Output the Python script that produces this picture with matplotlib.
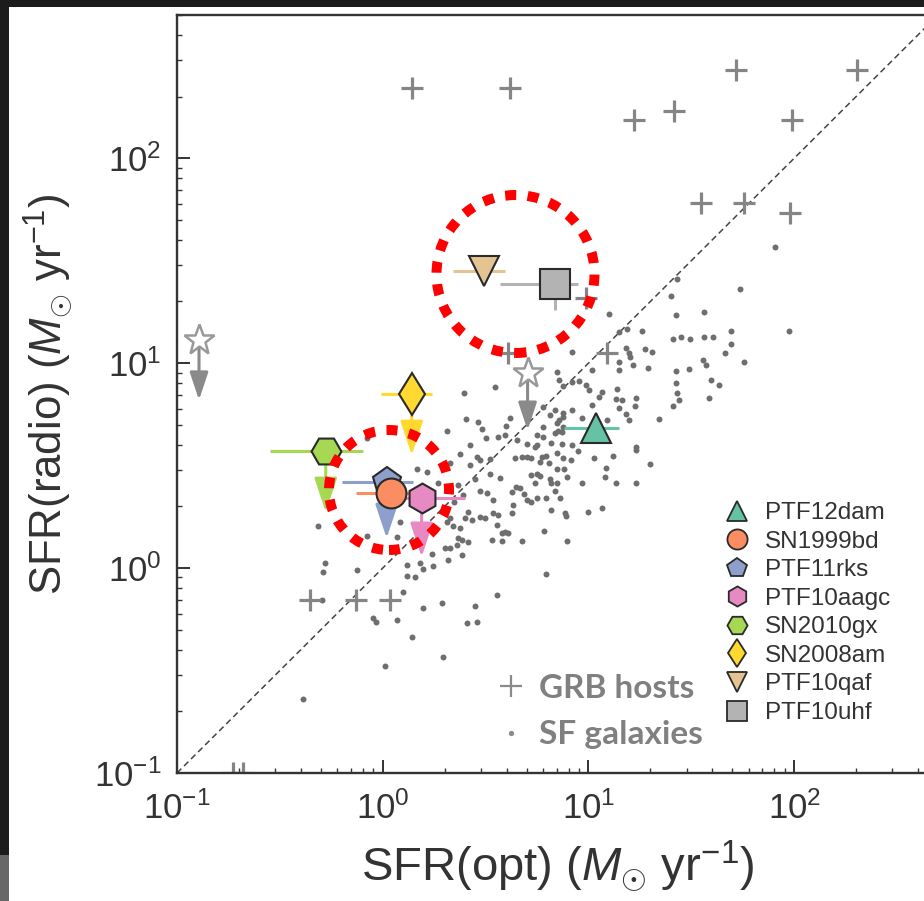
import numpy as np
import matplotlib
matplotlib.use('Agg')
import matplotlib.pyplot as plt
from matplotlib.lines import Line2D
from matplotlib.patches import Ellipse, Rectangle

plt.rcParams['font.family'] = ['Liberation Sans', 'DejaVu Sans']
plt.rcParams['mathtext.fontset'] = 'custom'
plt.rcParams['mathtext.rm'] = 'Liberation Sans'
plt.rcParams['mathtext.it'] = 'Liberation Sans:italic'
plt.rcParams['mathtext.bf'] = 'Liberation Sans:bold'

# ---------------- data (log10 of SFR in Msun/yr) -------------
sfg_log_opt = [0.393, 0.544, 0.403, 0.461, 0.621, 0.597, 0.481, 0.311, 0.500, 0.558, 0.592, 0.655, 0.422, 0.699,
               1.102, 1.427, 1.189, 1.262, 1.150, 1.413, 0.922, 1.184, 1.199, 1.277, 1.311, 1.204, 1.150, 1.150,
               1.218, 1.291, 0.845, 1.015, 1.427, 0.859, 0.922, 0.956, 0.874, 0.990, 1.005, 1.141, 1.427, 1.432,
               1.068, 1.053, 1.136, 1.165, 1.233, 1.019, 1.228, 1.146, 1.413, 0.835, 0.874, 0.922, 0.777, 1.184,
               0.811, 0.874, 0.859, 0.845, 1.199, 1.345, 0.971, 1.092, 0.777, 0.874, 0.850, 0.835, 0.869, 0.748,
               0.777, 0.820, 0.869, 0.748, 0.738, 0.922, 1.233, 1.908, 1.738, 1.432, 1.403, 1.563, 1.976, 1.694,
               1.451, 1.495, 1.563, 1.607, 1.694, 1.665, 1.757, 1.558, 1.573, 1.490, 1.442, 1.597, 1.636, 1.587,
               0.374, 0.456, 0.471, 0.519, 0.641, 0.675, 0.699, 0.422, 0.165, 0.214, 0.519, 0.568, 0.447, 0.364,
               0.267, 0.650, 0.665, 0.626, 0.471, 0.505, 0.388, 0.534, 0.689, 0.699, 0.345, 0.631, 0.413, 0.471,
               0.534, 0.558, 0.626, 0.398, 0.432, 0.495, 0.325, 0.311, 0.340, 0.374, 0.553, 0.592, 0.578, 0.607,
               0.083, 0.068, 0.364, 0.383, 0.413, 0.529, 0.578, 0.675, 0.359, 0.301, 0.325, 0.238, 0.383, 0.316,
               0.117, 0.180, 0.243, 0.194, 0.117, 0.155, 0.097, 0.553, 0.845, 0.947, 1.233, 0.772, 0.796, 0.762,
               0.806, 0.723, 0.874, 0.917, 1.029, 1.121, 1.301, 1.087, 0.845, 0.879, 0.723, 0.748, 0.762, 0.898,
               1.078, 0.811, 0.845, 0.820, 0.738, 0.971, 1.136, 1.233, 0.835, 0.748, 0.796, 0.864, 0.723, 0.816,
               0.888, 0.893, 1.000, 1.068, 0.786, 0.898, 0.796, 0.325, -0.316, -0.078, -0.282, -0.291, -0.126,
               -0.296, -0.049, -0.034, 0.068, 0.194, 0.286, 0.141, 0.291, 0.010, -0.388, 0.447, 0.408, 0.456,
               -0.078]
sfg_log_radio = [0.854, 0.883, 0.727, 0.712, 0.732, 0.693, 0.678, 0.668, 0.634, 0.639, 0.649, 0.624, 0.600, 0.605,
                 1.239, 1.234, 1.166, 1.156, 1.151, 1.117, 1.054, 1.073, 1.049, 1.068, 1.054, 1.029, 1.005, 0.966,
                 0.990, 0.976, 0.956, 0.966, 0.961, 0.917, 0.907, 0.912, 0.888, 0.893, 0.868, 0.873, 0.902, 0.854,
                 0.859, 0.834, 0.824, 0.820, 0.829, 0.795, 0.790, 0.780, 0.790, 0.771, 0.756, 0.771, 0.785, 0.751,
                 0.746, 0.737, 0.722, 0.707, 0.722, 0.727, 0.732, 0.722, 0.688, 0.688, 0.668, 0.659, 0.663, 0.649,
                 0.639, 0.610, 0.605, 0.600, 0.590, 0.600, 0.590, 1.566, 1.361, 1.410, 1.327, 1.249, 1.156, 1.156,
                 1.127, 1.117, 1.127, 1.127, 1.093, 1.049, 1.005, 1.015, 0.990, 0.971, 0.820, 0.917, 0.893, 0.829,
                 0.556, 0.541, 0.527, 0.532, 0.537, 0.541, 0.541, 0.502, 0.483, 0.468, 0.459, 0.439, 0.434, 0.405,
                 0.415, 0.395, 0.390, 0.371, 0.376, 0.366, 0.356, 0.332, 0.361, 0.332, 0.322, 0.307, 0.273, 0.249,
                 0.268, 0.259, 0.268, 0.244, 0.234, 0.244, 0.244, 0.224, 0.205, 0.195, 0.210, 0.176, 0.171, 0.171,
                 0.224, 0.151, 0.146, 0.137, 0.127, 0.137, 0.132, 0.132, 0.112, 0.098, 0.098, 0.068, 0.063, 0.039,
                 0.015, 0.024, 0.010, -0.005, -0.039, -0.044, -0.117, -0.132, 0.561, 0.571, 0.576, 0.541, 0.546, 0.517,
                 0.512, 0.537, 0.537, 0.527, 0.537, 0.546, 0.507, 0.488, 0.483, 0.483, 0.454, 0.459, 0.449, 0.444,
                 0.444, 0.434, 0.415, 0.415, 0.415, 0.415, 0.415, 0.415, 0.376, 0.341, 0.341, 0.341, 0.322, 0.283,
                 0.268, 0.254, 0.273, 0.293, 0.180, 0.132, -0.029, 0.512, 0.205, 0.156, 0.024, -0.020, -0.010,
                 -0.156, -0.244, -0.263, -0.254, -0.195, -0.171, -0.337, -0.434, -0.478, -0.639, -0.185, -0.268, -0.263,
                 0.634]

grb_log_opt = [0.141, 0.621, 1.718, 2.306, 1.223, 1.417, 1.990, 1.549, 1.757, 1.981, 0.990, 0.607, 1.092,
               -0.354, -0.131, 0.034, -0.728, -0.680]
grb_log_radio = [2.341, 2.341, 2.429, 2.429, 2.185, 2.229, 2.185, 1.780, 1.780, 1.732, 1.317, 1.049, 1.049,
                 -0.156, -0.156, -0.156, -1.0, -1.0]

star_log_opt = [-0.893, 0.704]
star_log_radio = [1.112, 0.951]
star_log_radio_limit = [0.820, 0.673]

sn_names = ['PTF12dam', 'SN1999bd', 'PTF11rks', 'PTF10aagc', 'SN2010gx', 'SN2008am', 'PTF10qaf', 'PTF10uhf']
sn_log_opt = [1.039, 0.039, 0.019, 0.189, -0.277, 0.141, 0.490, 0.835]
sn_log_radio = [0.683, 0.366, 0.420, 0.341, 0.571, 0.849, 1.449, 1.385]
sn_log_opt_lo = [0.883, -0.131, -0.199, -0.020, -0.549, -0.010, 0.340, 0.568]
sn_log_opt_hi = [1.146, 0.209, 0.146, 0.398, -0.097, 0.238, 0.592, 0.951]
sn_log_radio_lo = [np.nan, np.nan, np.nan, np.nan, np.nan, np.nan, np.nan, 1.259]
sn_log_radio_limit = [np.nan, np.nan, 0.146, 0.054, 0.273, 0.551, np.nan, np.nan]

axis_limits = [0.1, 500]

# ---------------- styles -------------
sn_markers = ['^', 'o', 'p', 'h', 'H', 'd', 'v', 's']
sn_colors = ['#66c2a5', '#fc8d62', '#8da0cb', '#e78ac3', '#a6d854', '#ffd92f', '#e5c494', '#b3b3b3']
sn_zorders = [12, 11, 10, 9, 8, 7, 6, 5]

W, H = 924, 901
fig = plt.figure(figsize=(W / 100, H / 100), dpi=100)
fig.patch.set_facecolor('#1c1c1c')
fig.add_artist(Rectangle((9 / W, 0), 1, (H - 7) / H, transform=fig.transFigure,
                         facecolor='white', edgecolor='none', zorder=-5))
fig.add_artist(Rectangle((0, 0), 9 / W, 46 / H, transform=fig.transFigure,
                         facecolor='#676767', edgecolor='none', zorder=-5))

ax_left = 177 / W
ax_bottom = (H - 773) / H
ax_height = (773 - 15) / H
ax_width = 761 / W
ax = fig.add_axes([ax_left, ax_bottom, ax_width, ax_height])
ax.set_xscale('log')
ax.set_yscale('log')
ax.set_xlim(axis_limits)
ax.set_ylim(axis_limits)

# one-to-one line
lim = np.array(axis_limits)
ax.plot(lim, lim, ls=(0, (4, 2.5)), color='#444444', lw=1.1, zorder=2)

# SF galaxies
ax.plot(10 ** np.array(sfg_log_opt), 10 ** np.array(sfg_log_radio), 'o', ms=4.3,
        color='#6e6e6e', mec='none', zorder=2)

# GRB hosts
ax.plot(10 ** np.array(grb_log_opt), 10 ** np.array(grb_log_radio), '+', ms=16.5, mew=2.3,
        color='#858585', zorder=2.5)

# stars with upper limit arrows
for xo, yr, yl in zip(star_log_opt, star_log_radio, star_log_radio_limit):
    ax.annotate('', xy=(10 ** xo, 10 ** yl), xytext=(10 ** xo, 10 ** yr),
                arrowprops=dict(arrowstyle='-|>,head_length=0.6,head_width=0.2', color='#8a8a8a',
                                lw=2.2, mutation_scale=28, shrinkA=0, shrinkB=0), zorder=2.6)
ax.plot(10 ** np.array(star_log_opt), 10 ** np.array(star_log_radio), '*', ms=23, mfc='white',
        mec='#999999', mew=1.8, zorder=2.7, ls='none')

# SNe
for i in range(len(sn_names)):
    x = 10 ** sn_log_opt[i]
    y = 10 ** sn_log_radio[i]
    c = sn_colors[i]
    ax.plot([10 ** sn_log_opt_lo[i], 10 ** sn_log_opt_hi[i]], [y, y], color=c, lw=2.2, zorder=3,
            solid_capstyle='butt')
    if not np.isnan(sn_log_radio_lo[i]):
        ax.plot([x, x], [10 ** sn_log_radio_lo[i], y], color=c, lw=2.2, zorder=3, solid_capstyle='butt')
    if not np.isnan(sn_log_radio_limit[i]):
        ax.annotate('', xy=(x, 10 ** sn_log_radio_limit[i]), xytext=(x, y),
                    arrowprops=dict(arrowstyle='-|>,head_length=0.6,head_width=0.2', color=c,
                                    lw=2.2, mutation_scale=35, shrinkA=0, shrinkB=0), zorder=3)
    ax.plot([x], [y], marker=sn_markers[i], ms=21.5, mfc=c, mec='#2a2a2a', mew=1.5,
            ls='none', zorder=sn_zorders[i])

# axes styling
for s in ['left', 'bottom', 'top', 'right']:
    ax.spines[s].set_color('#333333')
    ax.spines[s].set_linewidth(1.7)
ax.tick_params(which='both', direction='in', top=False, right=False, colors='#333333')
ax.tick_params(which='major', length=9.7, width=1.4, labelsize=25, pad=13)
ax.tick_params(which='minor', length=3.8, width=1.0)
ax.tick_params(axis='y', which='major', pad=11)
ax.set_xlabel(r'SFR(opt) ($M_{\odot}$ yr$^{-1}$)', fontsize=34, color='#333333', labelpad=10)
ax.set_ylabel(r'SFR(radio) ($M_{\odot}$ yr$^{-1}$)', fontsize=31.5, color='#333333', labelpad=14)

# legend of SNe
handles = [Line2D([], [], marker=m, ls='none', ms=14.5, mfc=c, mec='#2a2a2a', mew=1.3)
           for m, c in zip(sn_markers, sn_colors)]
leg = ax.legend(handles, sn_names, loc='upper left', bbox_to_anchor=(726 / W, 1 - 502 / H),
                bbox_transform=fig.transFigure, frameon=False, fontsize=17.5, labelspacing=0.27,
                handlelength=0.92, handletextpad=0.68, borderpad=0, borderaxespad=0, labelcolor='#333333')
ax.add_artist(leg)

# legend of comparison samples
h2 = [Line2D([], [], marker='+', ls='none', ms=16, mew=1.6, color='#8a8a8a'),
      Line2D([], [], marker='o', ls='none', ms=3.8, mec='none', color='#8a8a8a')]
leg2 = ax.legend(h2, ['GRB hosts', 'SF galaxies'], loc='upper left', bbox_to_anchor=(497 / W, 1 - 674 / H),
                 bbox_transform=fig.transFigure, frameon=False,
                 prop={'family': 'Lato', 'weight': 'bold', 'size': 24}, labelspacing=0.52,
                 handlelength=0.85, handletextpad=0.4, borderpad=0, borderaxespad=0, labelcolor='#808080')

# red dotted highlight circles (figure pixel positions)
for cx, cy, r in [(515.5, 274, 79), (389, 490, 60)]:
    fig.add_artist(Ellipse((cx / W, 1 - cy / H), 2 * r / W, 2 * r / H, transform=fig.transFigure,
                           fill=False, edgecolor='#ff0000', lw=7.2, ls=(0, (1.1, 1.15)), zorder=10))

fig.savefig('out.png', dpi=100, facecolor=fig.get_facecolor())
